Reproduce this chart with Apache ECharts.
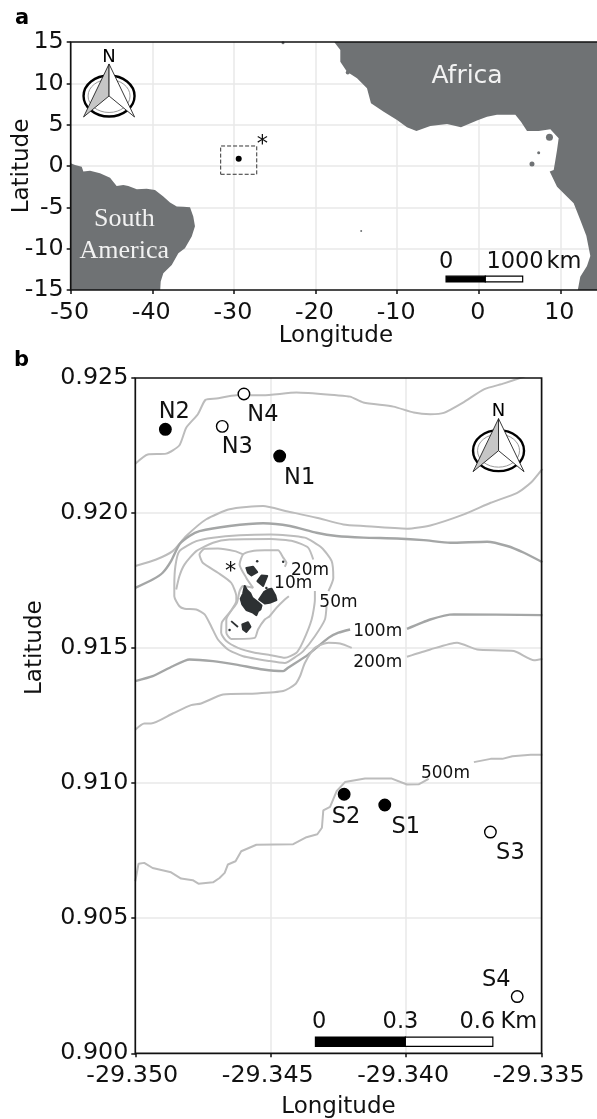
<!DOCTYPE html>
<html>
<head>
<meta charset="utf-8">
<style>html,body{margin:0;padding:0;background:#fff}#c{width:597px;height:1119px}</style>
<script src="https://cdn.jsdelivr.net/npm/echarts@6/dist/echarts.min.js"></script>
</head>
<body>
<div id="c"></div>
<script>
// ---------- Panel a data (longitude, latitude) ----------
const africaCoast = [[-17.69,15.5],[-17.69,14.96],[-16.96,14.03],[-16.96,12.62],[-16.14,11.41],[-14.91,10.61],[-13.69,9.4],[-13.2,7.59],[-11.64,6.57],[-10.01,5.57],[-8.79,4.68],[-7.63,4.24],[-5.93,4.84],[-3.88,5.08],[-2.17,4.68],[-0.21,5.49],[1.02,5.97],[2.24,6.21],[4.49,6.21],[5.18,5.36],[5.92,4.24],[7.35,4.24],[8.78,4.44],[9.8,3.35],[9.6,1.94],[9.4,0.73],[9.19,-0.48],[8.7,-0.68],[9.6,-2.5],[11.64,-4.5],[12.45,-6.52],[13.19,-8.45],[13.68,-10.9],[13.27,-12.1],[12.45,-13.4],[12.05,-15.5],[16,-15.5],[16,15.5]];
const southAmericaCoast = [[-50.5,0.33],[-50,0.33],[-49.47,0.13],[-48.65,-0.08],[-48.45,-0.68],[-47.63,-0.56],[-46.41,-0.88],[-45.18,-1.41],[-44.37,-2.41],[-43.55,-2.29],[-42.94,-2.41],[-41.9,-2.8],[-40.69,-2.74],[-39.67,-2.9],[-38.65,-3.7],[-37.83,-4.43],[-37,-4.9],[-36.2,-4.92],[-35.38,-5],[-34.98,-6.12],[-34.77,-7.3],[-35.17,-8.54],[-36,-9.95],[-36.81,-10.56],[-37.62,-11.97],[-38.65,-12.97],[-38.97,-13.98],[-39.06,-15.5],[-50.5,-15.5]];
const smallIslandsA = [[8.67,3.48,7],[7.35,1.6,3],[6.53,0.25,5],[-14.4,-7.85,2],[-16.05,11.3,4],[-23.98,14.9,3]];
const siteA = [[-29.41,0.89]];
const siteBoxLon = [-31.62,-27.2];
const siteBoxLat = [-1.0,2.42];
const compassA = [[-45.3,8.47]];
const compassB = [[-29.33659,0.92231]];
const scaleBarA = [[-4.0,0.81,-13.33,-14.02,'#000'],[0.81,5.39,-13.33,-14.02,'#fff']];
const scaleBarB = [[-29.34335,-29.34003,0.9006,0.90026,'#000'],[-29.34003,-29.3368,0.9006,0.90026,'#fff']];
const textsLandA = [[-1.43,11.13,'Africa']];
const textsSerifA = [[-43.43,-6.14,'South'],[-43.43,-10.05,'America']];
const textsA = [[-26.5,2.77,'*'],[-4,-11.36,'0'],[4.45,-11.36,'1000'],[10.45,-11.36,'km']];

// ---------- Panel b data ----------
const filledStations = [['N1',-29.34467,0.92211],['N2',-29.34889,0.9231],['S1',-29.34079,0.90919],['S2',-29.34229,0.90959]];
const openStations = [['N3',-29.34679,0.92321],['N4',-29.34599,0.92441],['S3',-29.33689,0.90819],['S4',-29.3359,0.9021]];
const contourTop = [[-29.35,0.92183],[-29.34954,0.92217],[-29.34886,0.9222],[-29.34837,0.92251],[-29.34812,0.92316],[-29.34769,0.92366],[-29.34741,0.92419],[-29.34701,0.92424],[-29.34627,0.92436],[-29.34528,0.92436],[-29.34405,0.92446],[-29.34257,0.92436],[-29.34207,0.92431],[-29.34158,0.92409],[-29.34047,0.92394],[-29.33972,0.92372],[-29.33911,0.92366],[-29.33861,0.92371],[-29.33787,0.92411],[-29.33713,0.92458],[-29.33639,0.9248],[-29.33571,0.92503],[-29.3354,0.92514]];
const contour200Upper = [[-29.35,0.91804],[-29.34923,0.91828],[-29.34862,0.91859],[-29.34812,0.91915],[-29.34738,0.91977],[-29.34652,0.92014],[-29.34528,0.92026],[-29.34442,0.92007],[-29.34331,0.91983],[-29.34232,0.91958],[-29.34158,0.91952],[-29.33997,0.91942],[-29.33911,0.91954],[-29.33787,0.91995],[-29.33688,0.92038],[-29.3359,0.92075],[-29.3354,0.92112],[-29.33497,0.92164]];
const contour100Upper = [[-29.35,0.91723],[-29.34936,0.91754],[-29.34899,0.91779],[-29.34868,0.91822],[-29.34837,0.91884],[-29.348,0.91915],[-29.34763,0.91933],[-29.34652,0.91952],[-29.34528,0.91962],[-29.34429,0.91952],[-29.34331,0.91927],[-29.34257,0.91915],[-29.34158,0.91909],[-29.34034,0.91906],[-29.33935,0.919],[-29.33837,0.9189],[-29.33701,0.91894],[-29.33627,0.91878],[-29.33565,0.91853],[-29.33497,0.91818]];
const contour50 = [[-29.34294,0.91655],[-29.343,0.91606],[-29.34337,0.91544],[-29.3438,0.91489],[-29.34405,0.9147],[-29.34448,0.91445],[-29.34504,0.91452],[-29.34602,0.9147],[-29.34658,0.91495],[-29.34695,0.91532],[-29.3472,0.91581],[-29.34744,0.91625],[-29.34775,0.91643],[-29.34818,0.91646],[-29.34837,0.91655],[-29.34856,0.91692],[-29.34856,0.9173],[-29.34852,0.91804],[-29.34837,0.91859],[-29.34775,0.91896],[-29.34713,0.91909],[-29.34615,0.91918],[-29.345,0.91921],[-29.34374,0.91909],[-29.34312,0.91872],[-29.34275,0.91822],[-29.34269,0.9176],[-29.34287,0.91711]];
const contour20Top = [[-29.34849,0.91717],[-29.34837,0.91767],[-29.34818,0.9181],[-29.34775,0.91859],[-29.34713,0.9189],[-29.34652,0.91902],[-29.345,0.91904],[-29.34417,0.91896],[-29.34362,0.91872],[-29.34343,0.91828]];
const contour20 = [[-29.34337,0.91711],[-29.34337,0.9168],[-29.34349,0.91606],[-29.3438,0.91526],[-29.34405,0.91483],[-29.34448,0.91464],[-29.345,0.91474],[-29.34559,0.91483],[-29.34621,0.91501],[-29.34664,0.91526],[-29.34683,0.91557],[-29.3468,0.91596],[-29.34648,0.91637],[-29.34627,0.91674],[-29.34627,0.91692],[-29.34646,0.91742],[-29.34695,0.91779],[-29.34751,0.91816],[-29.34763,0.91847],[-29.34744,0.91868],[-29.34695,0.91869],[-29.34633,0.91859],[-29.34602,0.91847]];
const contour10 = [[-29.34448,0.91801],[-29.34442,0.91816],[-29.34454,0.91835],[-29.34473,0.91862],[-29.34522,0.91862],[-29.34571,0.91859],[-29.34602,0.91847],[-29.34615,0.9181],[-29.3459,0.9176],[-29.34565,0.91723],[-29.34602,0.9173],[-29.34615,0.91711],[-29.34625,0.91668],[-29.34664,0.91606],[-29.34664,0.91557],[-29.34646,0.91534],[-29.34559,0.91538],[-29.34547,0.91569],[-29.34522,0.91606],[-29.34504,0.91618],[-29.34479,0.91649],[-29.34448,0.9168],[-29.34433,0.91692]];
const contour100LowerLeft = [[-29.35,0.91378],[-29.34936,0.91396],[-29.34862,0.91433],[-29.348,0.91458],[-29.34713,0.91452],[-29.34627,0.91439],[-29.34528,0.91421],[-29.34454,0.91415],[-29.34436,0.91427],[-29.34362,0.91476],[-29.34287,0.91538],[-29.3425,0.91557],[-29.34207,0.91569]];
const contour100LowerRight = [[-29.33997,0.91571],[-29.33911,0.91606],[-29.33824,0.91625],[-29.33497,0.91622]];
const contour200LowerLeft = [[-29.35,0.91198],[-29.34967,0.91221],[-29.34942,0.91221],[-29.34862,0.91258],[-29.34794,0.91289],[-29.34757,0.91295],[-29.34676,0.91328],[-29.34553,0.91332],[-29.34454,0.91341],[-29.34411,0.91365],[-29.34392,0.91396],[-29.34374,0.91445],[-29.34337,0.91501],[-29.34287,0.9152],[-29.34244,0.91517],[-29.34201,0.91501]];
const contour200LowerRight = [[-29.33997,0.91468],[-29.33911,0.91495],[-29.33812,0.9152],[-29.33738,0.91495],[-29.33602,0.91489],[-29.33528,0.91455],[-29.33497,0.9146]];
const contour500Left = [[-29.35,0.90637],[-29.34988,0.90702],[-29.34967,0.90705],[-29.34936,0.90686],[-29.34868,0.9067],[-29.34831,0.90647],[-29.34788,0.90641],[-29.34767,0.90628],[-29.34713,0.90633],[-29.34689,0.90649],[-29.3467,0.90668],[-29.34658,0.90699],[-29.3463,0.90711],[-29.34609,0.90748],[-29.34553,0.90772],[-29.34417,0.90774],[-29.34368,0.908],[-29.34328,0.90811],[-29.34311,0.90835],[-29.34306,0.90899],[-29.34281,0.90912],[-29.34257,0.9097],[-29.34226,0.91004],[-29.34152,0.91017],[-29.34053,0.91017],[-29.33997,0.90995],[-29.33954,0.90996],[-29.33917,0.91016]];
const contour500Right = [[-29.3375,0.91078],[-29.33688,0.9109],[-29.33645,0.9109],[-29.33608,0.911],[-29.3354,0.91105],[-29.33497,0.91105]];
const isletMain = [[-29.34596,0.9173],[-29.34588,0.91715],[-29.34575,0.91702],[-29.34568,0.91686],[-29.34547,0.9167],[-29.34534,0.91658],[-29.34538,0.91643],[-29.34547,0.91637],[-29.34553,0.91622],[-29.34568,0.91633],[-29.3459,0.91641],[-29.34605,0.91662],[-29.34611,0.91683],[-29.34602,0.91702]];
const isletEast = [[-29.34543,0.9168],[-29.34525,0.91707],[-29.3451,0.91717],[-29.34497,0.9172],[-29.34483,0.91695],[-29.34479,0.91678],[-29.34504,0.91668],[-29.34522,0.91665]];
const isletMid = [[-29.34549,0.91748],[-29.34534,0.91769],[-29.34513,0.91767],[-29.34528,0.9173]];
const isletNorth = [[-29.3459,0.91797],[-29.34565,0.91801],[-29.3455,0.91781],[-29.34571,0.91769],[-29.34584,0.91779]];
const isletSouth = [[-29.34605,0.91588],[-29.34584,0.91596],[-29.34575,0.91579],[-29.3459,0.9156],[-29.34602,0.91569]];
const isletThin = [[-29.34646,0.916],[-29.34621,0.91578]];
const isletSpecks = [[-29.34652,0.91567],[-29.3455,0.91822],[-29.34454,0.9182],[-29.34516,0.91723]];
const contourLabels = [[-29.34355,0.91795,'20m'],[-29.34417,0.91748,'10m'],[-29.3425,0.91678,'50m'],[-29.34105,0.91571,'100m'],[-29.34105,0.91454,'200m'],[-29.33855,0.91044,'500m']];
const textsB = [[-29.34648,0.91791,'*'],[-29.34321,0.90124,'0'],[-29.34021,0.90124,'0.3'],[-29.33737,0.90124,'0.6'],[-29.33584,0.90124,'Km']];
const stationLabelOffsets = {N1:[20,22.5],N2:[9,-17.5],N3:[15,20.5],N4:[19,21.5],S1:[21,22.5],S2:[2,23],S3:[20,21.5],S4:[-21,-16]};

// ---------- Chart tick settings ----------
const xTicksA = {min:-50,max:15,interval:10};
const yTicksA = {min:-15,max:15,interval:5};
const xTicksB = {min:-29.35,max:-29.335,interval:0.005};
const yTicksB = {min:0.9,max:0.925,interval:0.005};

const FONT = '"DejaVu Sans"';
const INK = '#111', LAND = '#6f7274', ISLET = '#2d3133';
const LIGHT = '#bcbcbc', DARKER = '#a4a6a6';
const TEXT_SHIFT = [0,2.5];

function polygonSeries(pts, g, color, edge) {
  return {type:'custom', xAxisIndex:g, yAxisIndex:g, clip:true, silent:true, z:g ? 4 : 2, data:pts,
    renderItem:(p, api) => p.dataIndex !== 0 ? null : ({type:'polygon',
      shape:{points:pts.map(c => api.coord(c))},
      style:{fill:color, stroke:edge ? color : 'none', lineWidth:edge || 0, lineJoin:'round'}})};
}
function lineSeries(pts, g, color, width, extra) {
  return Object.assign({type:'line', xAxisIndex:g, yAxisIndex:g, data:pts, showSymbol:false, symbol:'none',
    clip:true, silent:true, z:3, lineStyle:{color:color, width:width}}, extra || {});
}
function textSeries(items, g, size, color, family, z) {
  return {type:'scatter', xAxisIndex:g, yAxisIndex:g, symbolSize:0, silent:true, z:z || 8, itemStyle:{opacity:1},
    data:items.map(t => ({name:t[2], value:[t[0], t[1]]})),
    label:{show:true, position:'inside', offset:TEXT_SHIFT, formatter:'{b}', fontSize:size, color:color, fontFamily:family || FONT}};
}
function barSeries(segs, g) {
  return {type:'custom', xAxisIndex:g, yAxisIndex:g, silent:true, z:6, data:segs.map(s => s.slice(0,4)),
    renderItem:(p, api) => {
      const a = api.coord([api.value(0), api.value(2)]);
      const b = api.coord([api.value(1), api.value(3)]);
      return {type:'rect', shape:{x:a[0], y:a[1], width:b[0]-a[0], height:b[1]-a[1]},
        style:{fill:segs[p.dataIndex][4], stroke:'#000', lineWidth:1.2}};
    }};
}
function frameSeries(xt, yt, g) {
  return {type:'custom', xAxisIndex:g, yAxisIndex:g, silent:true, z:9, data:[[xt.min, yt.max, xt.max, yt.min]],
    renderItem:(p, api) => {
      const a = api.coord([api.value(0), api.value(1)]);
      const b = api.coord([api.value(2), api.value(3)]);
      return {type:'rect', shape:{x:a[0], y:a[1], width:b[0]-a[0], height:b[1]-a[1]},
        style:{fill:'none', stroke:INK, lineWidth:1.7}};
    }};
}
function compassSeries(pos, g) {
  return {type:'custom', xAxisIndex:g, yAxisIndex:g, silent:true, z:7, data:pos,
    renderItem:(p, api) => {
      const c = api.coord([api.value(0), api.value(1)]);
      const x = c[0], y = c[1];
      return {type:'group', children:[
        {type:'ellipse', shape:{cx:x, cy:y, rx:25.5, ry:20.5}, style:{fill:'#fff', stroke:'#000', lineWidth:2.4}},
        {type:'ellipse', shape:{cx:x, cy:y, rx:21, ry:16.5}, style:{fill:'none', stroke:'#9a9a9a', lineWidth:1}},
        {type:'polygon', shape:{points:[[x,y-32],[x,y],[x-25.5,y+21]]}, style:{fill:'#c6c6c6', stroke:'#222', lineWidth:0.9}},
        {type:'polygon', shape:{points:[[x,y-32],[x,y],[x+25.5,y+21]]}, style:{fill:'#fff', stroke:'#222', lineWidth:0.9}},
        {type:'text', x:x, y:y-39, style:{text:'N', fontSize:18, fontFamily:FONT, fill:'#000', align:'center', verticalAlign:'middle'}}
      ]};
    }};
}
function xAxis(ticks, g, dec) {
  return Object.assign({type:'value', gridIndex:g, name:'Longitude', nameLocation:'middle', nameGap:g ? 42 : 35, nameMoveOverlap:false,
    nameTextStyle:{fontSize:23, color:INK, fontFamily:FONT},
    axisLine:{show:false, onZero:false}, axisTick:{show:true, length:4, lineStyle:{color:INK, width:1.5}},
    axisLabel:{fontSize:23.8, color:INK, fontFamily:FONT, margin:11, padding:[0,g ? 6 : 2,0,0], showMaxLabel:g ? true : false, formatter:v => v.toFixed(dec)},
    splitLine:{show:true, showMinLine:false, showMaxLine:false, lineStyle:{color:'#e8e8e8', width:1.5}}}, ticks);
}
function yAxis(ticks, g, dec, pad) {
  return Object.assign({type:'value', gridIndex:g, name:'Latitude', nameLocation:'middle', nameGap:g ? 89 : 37, nameMoveOverlap:false,
    nameTextStyle:{fontSize:23, color:INK, fontFamily:FONT, padding:pad},
    axisLine:{show:false, onZero:false}, axisTick:{show:true, length:4, lineStyle:{color:INK, width:1.5}},
    axisLabel:{fontSize:23.8, color:INK, fontFamily:FONT, margin:7, padding:[g ? 4 : 8,0,0,0], formatter:v => v.toFixed(dec)},
    splitLine:{show:true, showMinLine:false, showMaxLine:false, lineStyle:{color:'#e8e8e8', width:1.5}}}, ticks);
}
const stationSeries = (list, fill) => ({type:'scatter', xAxisIndex:1, yAxisIndex:1, z:6, silent:true, symbolSize:11.5,
  itemStyle:{color:fill, borderColor:'#000', borderWidth:1.4, opacity:1},
  data:list.map(s => ({name:s[0], value:[s[1], s[2]],
    label:{show:true, position:'inside', offset:stationLabelOffsets[s[0]], formatter:'{b}', fontSize:22.5, color:INK, fontFamily:FONT}}))});
const SMOOTH = {smooth:0.2};

const chart = echarts.init(document.getElementById('c'), null, {renderer:'canvas'});
chart.setOption({
  animation:false,
  backgroundColor:'#fff',
  title:[
    {text:'a', left:10, top:3, textStyle:{fontSize:21, fontWeight:'bold', color:'#000', fontFamily:FONT}},
    {text:'b', left:9, top:345, textStyle:{fontSize:21, fontWeight:'bold', color:'#000', fontFamily:FONT}}
  ],
  grid:[
    {left:70.7, top:42, width:530.4, height:248, outerBoundsMode:'none'},
    {left:135.3, top:378, width:406.3, height:675.3, outerBoundsMode:'none'}
  ],
  xAxis:[xAxis(xTicksA,0,0), xAxis(xTicksB,1,3)],
  yAxis:[yAxis(yTicksA,0,0,[0,0,0,0]), yAxis(yTicksB,1,3,[0,0,0,136])],
  series:[
    polygonSeries(africaCoast,0,LAND),
    polygonSeries(southAmericaCoast,0,LAND),
    {type:'scatter', xAxisIndex:0, yAxisIndex:0, z:3, silent:true, data:smallIslandsA.map(s => [s[0],s[1]]),
      symbolSize:(v,p) => smallIslandsA[p.dataIndex][2], itemStyle:{color:LAND, opacity:1}},
    lineSeries([[siteBoxLon[0],siteBoxLat[0]],[siteBoxLon[1],siteBoxLat[0]],[siteBoxLon[1],siteBoxLat[1]],[siteBoxLon[0],siteBoxLat[1]],[siteBoxLon[0],siteBoxLat[0]]],0,'#333',1,{lineStyle:{color:'#333',width:1,type:[4,2]}}),
    {type:'scatter', xAxisIndex:0, yAxisIndex:0, z:5, silent:true, data:siteA, symbolSize:6, itemStyle:{color:'#000', opacity:1}},
    barSeries(scaleBarA,0),
    compassSeries(compassA,0),
    textSeries(textsLandA,0,25,'#f2f2f2'),
    textSeries(textsSerifA,0,26,'#f2f2f2','"Liberation Serif"'),
    textSeries(textsA,0,22.5,INK),
    frameSeries(xTicksA,yTicksA,0),

    lineSeries(contourTop,1,LIGHT,2,SMOOTH),
    lineSeries(contour200Upper,1,LIGHT,2,SMOOTH),
    lineSeries(contour100Upper,1,DARKER,2.4,SMOOTH),
    lineSeries(contour50,1,LIGHT,2,SMOOTH),
    lineSeries(contour20Top,1,LIGHT,2,SMOOTH),
    lineSeries(contour20,1,LIGHT,2,SMOOTH),
    lineSeries(contour10,1,LIGHT,2,SMOOTH),
    lineSeries(contour100LowerLeft,1,DARKER,2.4,SMOOTH),
    lineSeries(contour100LowerRight,1,DARKER,2.4,SMOOTH),
    lineSeries(contour200LowerLeft,1,LIGHT,2,SMOOTH),
    lineSeries(contour200LowerRight,1,LIGHT,2,SMOOTH),
    lineSeries(contour500Left,1,LIGHT,2),
    lineSeries(contour500Right,1,LIGHT,2),
    polygonSeries(isletMain,1,ISLET,2),
    polygonSeries(isletEast,1,ISLET,2),
    polygonSeries(isletMid,1,ISLET,2),
    polygonSeries(isletNorth,1,ISLET,2),
    polygonSeries(isletSouth,1,ISLET,2),
    lineSeries(isletThin,1,ISLET,1.8,{z:4}),
    {type:'scatter', xAxisIndex:1, yAxisIndex:1, z:4, silent:true, data:isletSpecks, symbolSize:2.5, itemStyle:{color:ISLET, opacity:1}},
    stationSeries(filledStations,'#000'),
    stationSeries(openStations,'#fff'),
    barSeries(scaleBarB,1),
    compassSeries(compassB,1),
    textSeries(contourLabels,1,17,INK),
    textSeries(textsB,1,22.5,INK),
    frameSeries(xTicksB,yTicksB,1)
  ]
});
</script>
</body>
</html>
